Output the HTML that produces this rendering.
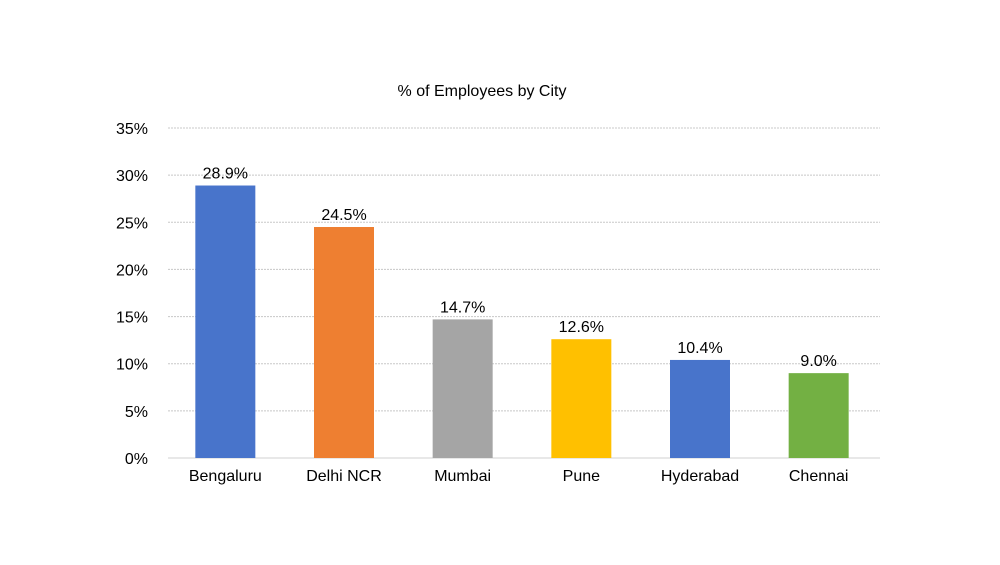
<!DOCTYPE html>
<html><head><meta charset="utf-8"><style>
body{margin:0;background:#fff;}
svg{display:block;font-family:"Liberation Sans",sans-serif;}
</style></head><body>
<svg id="chart" width="1000" height="565" viewBox="0 0 1000 565">
<text x="482" y="96" text-anchor="middle" font-size="16" fill="#000">% of Employees by City</text>
<g id="grid"></g><g id="bars"></g><g id="labels"></g>
</svg>
<script>
const categories = ["Bengaluru","Delhi NCR","Mumbai","Pune","Hyderabad","Chennai"];
const values = [28.9,24.5,14.7,12.6,10.4,9.0];
const valueLabels = ["28.9%","24.5%","14.7%","12.6%","10.4%","9.0%"];
const ticks = [0,5,10,15,20,25,30,35];
const tickLabels = ["0%","5%","10%","15%","20%","25%","30%","35%"];
const colors = ["#4874CB","#EE7F31","#A5A5A5","#FFC000","#4874CB","#73B043"];

const NS="http://www.w3.org/2000/svg";
const x0=168,x1=880,y0=458,yTop=128,maxV=35;
const y=v=>y0-(v/maxV)*(y0-yTop);
const band=(x1-x0)/categories.length;
const xc=i=>x0+band*(i+0.5)-2;
const bw=60;
function mk(tag,attrs,parent){const e=document.createElementNS(NS,tag);for(const k in attrs)e.setAttribute(k,attrs[k]);parent.appendChild(e);return e;}
const grid=document.getElementById('grid'),bars=document.getElementById('bars'),labels=document.getElementById('labels');
ticks.forEach((t,i)=>{
  const l=mk('line',{x1:x0,x2:x1,y1:y(t),y2:y(t),stroke:t===0?'#d0d0d0':'#c8c8c8','stroke-width':1,'stroke-dasharray':t===0?'':'2,1'},grid);
  
  
  const tx=mk('text',{x:148,y:y(t)+6,'text-anchor':'end','font-size':16,fill:'#000'},grid);
  tx.textContent=tickLabels[i];
  
  
});
categories.forEach((c,i)=>{
  const r=mk('rect',{x:xc(i)-bw/2,y:y(values[i]),width:bw,height:y0-y(values[i]),fill:colors[i]},bars);
  
  
  const vl=mk('text',{x:xc(i),y:y(values[i])-7,'text-anchor':'middle','font-size':16,fill:'#000'},labels);
  vl.textContent=valueLabels[i];
  
  
  const cl=mk('text',{x:xc(i),y:481,'text-anchor':'middle','font-size':16,fill:'#000'},labels);
  cl.textContent=c;
  
  
});
</script>
</body></html>
